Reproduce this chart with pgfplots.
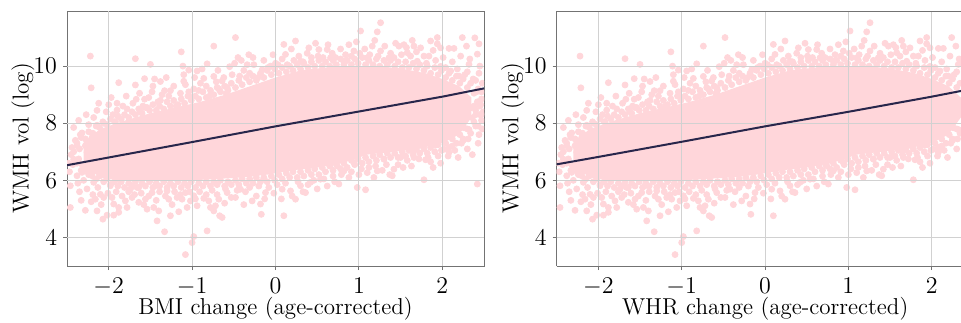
\documentclass[border=0pt]{standalone}
\usepackage{pgfplots}
\usepackage{pgfplotstable}
\pgfplotsset{compat=1.18}
\definecolor{ptpink}{RGB}{255,214,218}
\definecolor{fitline}{RGB}{40,38,75}
\newcommand\lf{\fontsize{11.5}{14}\selectfont}
\tikzset{gridl/.style={black!18, line width=0.5pt}}

\pgfplotstableread{
x y
-2.30 7.35
-2.10 7.80
-1.80 8.10
-1.50 8.35
-1.20 8.55
-0.90 8.75
-0.60 9.00
-0.30 9.30
0.00 9.60
0.30 9.85
0.60 9.95
0.90 10.00
1.20 10.00
1.50 9.92
1.80 9.75
2.00 9.55
2.20 9.30
2.35 8.90
2.35 8.20
2.20 7.60
2.00 7.30
1.70 7.10
1.40 7.00
1.10 6.90
0.80 6.60
0.50 6.45
0.20 6.35
-0.10 6.20
-0.40 6.10
-0.70 6.05
-1.00 6.00
-1.30 6.00
-1.60 6.00
-1.90 6.00
-2.10 6.10
-2.30 6.50
}\core

\pgfplotstableread{
x y
-2.22 10.35
-2.21 9.24
-2.14 8.45
-2.32 7.66
-1.88 9.42
-1.68 10.26
-1.68 9.34
-1.50 10.06
-1.57 9.56
-1.45 9.55
-1.38 9.46
-1.13 10.50
-1.11 10.00
-1.10 9.70
-1.10 9.47
-1.04 9.86
-1.04 9.10
-0.94 9.83
-0.86 9.57
-0.82 10.08
-0.74 10.70
-0.74 9.64
-0.64 9.48
-0.55 9.98
-0.48 11.00
-0.45 10.30
-0.41 10.20
-0.32 10.40
-0.27 10.30
-0.34 10.05
-0.16 9.87
-0.06 10.00
0.00 10.10
-2.00 8.65
-1.90 8.70
-1.90 8.46
-1.67 8.84
-1.57 8.84
-1.48 9.10
-1.33 9.14
-1.26 9.14
-1.78 8.50
-1.62 8.40
-2.07 8.05
-2.14 7.93
-1.95 8.30
-1.54 8.55
-1.38 8.80
-0.98 9.20
-0.90 9.40
-0.68 9.20
-0.59 9.04
-2.34 7.60
-2.24 7.95
0.24 10.88
0.40 10.64
0.52 10.58
0.62 10.58
0.88 10.75
1.02 11.23
1.26 11.52
1.22 11.20
1.16 10.70
1.26 10.53
1.44 10.80
1.48 10.70
1.54 10.75
1.64 10.90
1.66 10.70
1.74 10.64
1.86 10.88
1.94 11.00
1.94 10.78
1.98 10.64
2.08 10.62
2.14 10.62
2.24 11.00
2.29 10.70
2.39 10.99
2.44 10.78
2.32 10.06
2.42 10.42
2.10 9.83
2.20 9.65
2.26 9.01
2.34 8.54
2.20 8.71
2.10 8.54
2.36 8.19
2.18 8.07
2.26 7.84
2.32 7.78
2.10 7.72
0.12 10.41
0.10 10.76
0.30 10.17
0.66 10.29
0.94 10.53
0.82 10.17
1.10 10.29
1.36 10.29
1.70 10.17
1.84 10.35
1.98 9.99
1.58 10.47
-2.46 5.81
-2.46 5.05
-2.21 5.25
-2.16 5.34
-2.10 5.51
-2.06 5.40
-2.07 4.64
-2.14 4.93
-2.28 4.95
-2.02 4.78
-1.94 5.17
-1.94 4.78
-1.88 5.05
-1.88 4.88
-1.80 5.28
-1.72 5.40
-1.66 5.75
-1.64 5.23
-1.56 5.34
-1.54 4.99
-1.46 5.05
-1.42 4.58
-1.40 4.93
-1.33 4.20
-1.28 5.34
-1.26 4.76
-1.18 5.40
-1.16 4.90
-1.12 5.34
-1.08 5.57
-1.02 5.28
-0.98 4.03
-1.00 3.82
-1.08 3.40
-0.94 5.11
-0.86 5.37
-0.82 4.23
-0.80 5.28
-0.74 4.93
-0.72 5.11
-0.68 5.34
-0.67 4.76
-0.64 4.70
-0.58 5.57
-0.48 5.40
-0.42 5.69
-0.28 5.28
-0.18 5.17
-0.17 4.81
-0.12 5.57
-1.30 5.63
-1.48 5.57
-1.74 5.69
-1.98 5.81
-2.18 5.93
-2.38 6.16
-2.42 6.74
-2.38 7.21
-2.28 7.21
-2.32 6.28
-2.20 6.16
-2.32 6.56
-2.26 6.98
-2.10 7.27
-0.98 5.46
-1.44 5.81
0.10 4.76
0.24 5.34
0.36 5.57
0.18 5.63
0.08 5.69
0.54 6.04
0.76 5.87
0.98 5.75
1.08 5.67
1.22 6.33
1.42 6.39
1.40 6.16
1.78 6.02
2.42 5.87
1.86 6.65
1.80 6.72
1.66 6.80
2.08 6.98
2.02 7.09
1.92 7.23
0.82 6.33
1.10 6.27
1.30 6.74
1.50 6.80
1.66 7.04
1.76 7.21
0.74 6.51
0.94 6.62
0.42 5.93
0.30 5.81
2.25 7.40
2.40 7.90
2.45 8.30
2.15 7.05
1.95 6.85
2.30 7.10
2.38 8.60
2.47 9.10
2.40 9.50
2.30 9.80
2.45 10.00
-2.45 6.90
-2.40 7.40
-2.47 6.30
-2.35 5.60
-2.30 6.00
-2.20 7.50
-2.25 6.30
-2.42 7.85
-2.36 8.10
-2.27 8.30
-2.18 8.20
-2.12 8.70
-2.03 8.40
-1.97 8.90
-1.92 8.05
-1.83 8.60
-1.79 8.95
-1.71 8.70
-1.63 9.05
-1.59 8.60
-1.52 8.90
-1.47 9.30
-1.41 8.75
-1.36 9.00
-1.31 9.60
-1.28 8.95
-1.22 9.30
-1.19 8.60
-1.14 9.05
-1.08 9.35
-1.01 8.90
-0.97 9.60
-0.92 9.15
-0.88 9.90
-0.83 9.30
-0.79 8.95
-0.71 9.45
-0.69 9.85
-0.62 9.60
-0.58 9.25
-0.52 9.70
-0.49 10.10
-0.43 9.65
-0.38 9.85
-0.31 9.75
-0.26 10.05
-0.21 9.60
-0.14 10.20
-0.09 9.95
-0.03 10.40
0.03 10.05
0.08 10.25
0.14 10.05
0.19 10.60
0.22 10.20
0.28 10.35
0.33 10.15
0.38 10.45
0.43 10.30
0.48 10.80
0.51 10.35
0.57 10.30
0.63 10.75
0.68 10.45
0.72 10.30
0.78 10.60
0.84 10.40
0.91 10.35
0.97 10.85
1.01 10.45
1.07 10.60
1.13 10.40
1.19 10.90
1.23 10.35
1.31 10.70
1.38 10.45
1.42 10.30
1.51 10.40
1.57 10.65
1.62 10.35
1.69 10.50
1.78 10.35
1.81 10.10
1.89 10.55
1.92 10.20
2.01 10.30
2.04 9.95
2.12 10.15
2.18 9.90
2.22 10.35
2.27 9.70
2.33 10.25
2.37 9.55
2.44 9.75
2.48 9.40
2.41 9.10
2.46 8.65
2.40 8.30
2.44 7.60
-2.43 6.55
-2.37 5.90
-2.33 5.30
-2.26 5.70
-2.19 5.50
-2.13 5.75
-2.09 5.15
-2.01 5.55
-1.96 5.40
-1.91 5.60
-1.84 5.45
-1.78 5.05
-1.76 5.60
-1.69 5.50
-1.61 5.55
-1.58 5.15
-1.52 5.45
-1.43 5.30
-1.39 5.60
-1.32 5.45
-1.24 5.15
-1.21 5.60
-1.14 5.50
-1.06 5.05
-1.03 5.60
-0.96 5.35
-0.91 5.60
-0.83 5.50
-0.78 5.05
-0.76 5.65
-0.70 5.50
-0.61 5.20
-0.60 5.70
-0.53 5.40
-0.46 5.65
-0.38 5.15
-0.36 5.60
-0.31 5.75
-0.23 5.45
-0.20 5.80
-0.13 5.35
-0.08 5.75
-0.02 5.55
0.02 5.85
0.07 5.35
0.12 5.90
0.20 5.45
0.27 5.95
0.33 5.60
0.39 5.85
0.46 6.00
0.50 5.70
0.58 6.05
0.62 5.80
0.69 6.15
0.71 5.95
0.79 6.20
0.88 6.10
0.91 6.30
1.00 6.20
1.03 6.40
1.12 6.45
1.18 6.10
1.20 6.50
1.28 6.35
1.33 6.55
1.37 6.20
1.47 6.55
1.53 6.45
1.58 6.70
1.63 6.50
1.72 6.75
1.83 6.80
1.89 6.45
1.98 6.60
2.07 6.85
2.12 7.20
2.19 6.80
2.23 7.30
2.31 7.45
2.36 6.90
2.43 7.30
2.48 7.80
2.47 8.10
-2.38 7.30
-2.33 7.50
-2.28 7.45
-2.24 7.70
-2.19 7.65
-2.15 7.90
-2.11 7.85
-2.06 8.00
-2.02 7.95
-1.98 8.15
-1.93 8.05
-1.89 8.25
-1.85 8.15
-1.81 8.30
-1.76 8.20
-1.72 8.40
-1.68 8.30
-1.64 8.50
-1.60 8.35
-1.56 8.55
-1.51 8.45
-1.47 8.65
-1.43 8.45
-1.39 8.60
-1.34 8.50
-1.30 8.75
-1.26 8.60
-1.22 8.80
-1.17 8.65
-1.13 8.85
-1.09 8.70
-1.05 8.95
-1.01 8.80
-0.96 8.95
-0.92 8.85
-0.87 9.10
-0.83 8.90
-0.78 9.15
-0.74 9.00
-0.70 9.25
-0.66 9.10
-0.61 9.30
-0.57 9.15
-0.53 9.40
-0.48 9.25
-0.44 9.50
-0.40 9.35
-0.35 9.60
-0.31 9.45
-0.27 9.65
-0.23 9.50
-0.18 9.75
-0.14 9.60
-0.10 9.85
-0.05 9.70
-0.01 9.90
0.04 9.75
0.08 9.95
0.13 9.80
0.17 10.00
0.21 9.85
0.26 10.05
0.30 9.90
0.34 10.10
0.39 9.95
0.43 10.15
0.47 10.00
0.52 10.20
0.56 10.00
0.60 10.15
0.65 10.00
0.69 10.20
0.73 10.05
0.78 10.25
0.82 10.05
0.86 10.20
0.91 10.05
0.95 10.25
0.99 10.10
1.04 10.30
1.08 10.05
1.12 10.20
1.17 10.05
1.21 10.25
1.25 10.00
1.30 10.20
1.34 10.05
1.38 10.20
1.43 10.00
1.47 10.15
1.52 9.95
1.56 10.15
1.60 9.95
1.65 10.10
1.69 9.90
1.73 10.05
1.78 9.85
1.82 10.00
1.86 9.75
1.91 9.95
1.95 9.70
1.99 9.85
2.04 9.60
2.08 9.75
2.12 9.50
2.17 9.65
2.21 9.40
2.25 9.55
2.30 9.25
2.34 9.40
2.38 9.05
2.43 9.20
2.47 8.85
-2.38 6.60
-2.33 6.35
-2.28 6.45
-2.24 6.20
-2.19 6.30
-2.15 6.05
-2.11 6.15
-2.06 5.95
-2.02 6.05
-1.98 5.85
-1.93 5.95
-1.89 5.80
-1.85 5.95
-1.81 5.75
-1.76 5.90
-1.72 5.80
-1.68 5.95
-1.64 5.75
-1.60 5.90
-1.56 5.80
-1.51 5.95
-1.47 5.75
-1.43 5.90
-1.39 5.80
-1.34 5.95
-1.30 5.75
-1.26 5.90
-1.22 5.80
-1.17 5.95
-1.13 5.75
-1.09 5.90
-1.05 5.80
-1.01 5.95
-0.96 5.75
-0.92 5.90
-0.87 5.80
-0.83 5.95
-0.78 5.80
-0.74 5.95
-0.70 5.85
-0.66 6.00
-0.61 5.80
-0.57 5.95
-0.53 5.85
-0.48 6.00
-0.44 5.85
-0.40 6.05
-0.35 5.90
-0.31 6.05
-0.27 5.90
-0.23 6.10
-0.18 5.95
-0.14 6.10
-0.10 5.95
-0.05 6.15
-0.01 6.00
0.04 6.20
0.08 6.05
0.13 6.25
0.17 6.10
0.21 6.30
0.26 6.10
0.30 6.30
0.34 6.15
0.39 6.35
0.43 6.20
0.47 6.40
0.52 6.20
0.56 6.45
0.60 6.30
0.65 6.50
0.69 6.35
0.73 6.55
0.78 6.40
0.82 6.60
0.86 6.45
0.91 6.70
0.95 6.55
0.99 6.75
1.04 6.60
1.08 6.80
1.12 6.65
1.17 6.85
1.21 6.70
1.25 6.90
1.30 6.75
1.34 6.95
1.38 6.80
1.43 6.95
1.47 6.80
1.52 7.00
1.56 6.85
1.60 7.05
1.65 6.90
1.69 7.10
1.73 6.95
1.78 7.10
1.82 6.95
1.86 7.15
1.91 7.00
1.95 7.25
1.99 7.05
2.04 7.30
2.08 7.15
2.12 7.45
2.17 7.30
2.21 7.60
2.25 7.45
2.30 7.80
2.34 7.65
2.38 8.05
2.43 7.90
2.47 8.30
2.40 8.45
2.45 8.60
2.49 8.40
2.42 8.75
-2.35 7.10
-2.44 7.15
-2.48 6.60
-2.36 6.75
-2.42 7.00
}\fringe

\pgfplotsset{
  panel/.style={
    scale only axis,
    clip marker paths=true,
    height=127.5pt,
    ymin=3.0, ymax=11.93,
    xmin=-2.5,
    xtick={-2,-1,0,1,2},
    ytick={4,6,8,10},
    xtick pos=bottom,
    ytick pos=left,
    tick align=outside,
    major tick length=2pt,
    tick style={black!55, line width=0.5pt},
    tick label style={font=\lf},
    xticklabel style={anchor=base, inner sep=0pt, yshift=-11.8pt},
    yticklabel style={anchor=east, inner sep=0pt, xshift=-2.8pt},
    label style={font=\lf},
    xlabel style={at={(axis description cs:0.5,0)}, anchor=base, inner sep=0pt, yshift=-24.3pt},
    ylabel={WMH vol (log)},
    axis line style={black!55, line width=0.5pt},
  },
}

\begin{document}
\begin{tikzpicture}
\begin{axis}[panel,
  at={(33.5pt,28pt)}, anchor=south west,
  width=208.5pt, xmax=2.5,
  ylabel style={at={(axis description cs:-0.1055,0.5)}, anchor=center},
  xlabel={BMI change (age-corrected)}]
\addplot[fill=ptpink, draw=none] table {\core};
\addplot[only marks, mark=*, mark size=1.5pt, ptpink, mark options={draw=none, fill=ptpink}] table {\fringe};
\pgfplotsinvokeforeach{-2,-1,0,1,2}{\draw[gridl] (axis cs:#1,3.0) -- (axis cs:#1,11.93);}
\pgfplotsinvokeforeach{4,6,8,10}{\draw[gridl] (axis cs:-2.5,#1) -- (axis cs:2.5,#1);}
\addplot[fitline, line width=1pt] coordinates {(-2.5,6.53) (-2,6.80) (-1,7.34) (0,7.89) (1,8.41) (2,8.93) (2.5,9.22)};
\end{axis}
\begin{axis}[panel,
  at={(278.35pt,28pt)}, anchor=south west,
  width=202.15pt, xmax=2.352,
  axis x line*=bottom, axis y line*=left,
  ylabel style={at={(axis description cs:-0.1088,0.5)}, anchor=center},
  xlabel style={at={(axis description cs:0.5156,0)}},
  xlabel={WHR change (age-corrected)}]
\addplot[fill=ptpink, draw=none] table {\core};
\addplot[only marks, mark=*, mark size=1.5pt, ptpink, mark options={draw=none, fill=ptpink}] table {\fringe};
\pgfplotsinvokeforeach{-2,-1,0,1,2}{\draw[gridl] (axis cs:#1,3.0) -- (axis cs:#1,11.93);}
\pgfplotsinvokeforeach{4,6,8,10}{\draw[gridl] (axis cs:-2.5,#1) -- (axis cs:2.352,#1);}
\addplot[fitline, line width=1pt] coordinates {(-2.5,6.56) (-2,6.82) (-1,7.35) (0,7.89) (1,8.40) (2,8.93) (2.352,9.13)};
\draw[black!55, line width=0.5pt] (rel axis cs:0,1) -- (rel axis cs:1,1);
\end{axis}
\pgfresetboundingbox
\path[use as bounding box] (0,0) rectangle (480.5pt,161pt);
\end{tikzpicture}
\end{document}
